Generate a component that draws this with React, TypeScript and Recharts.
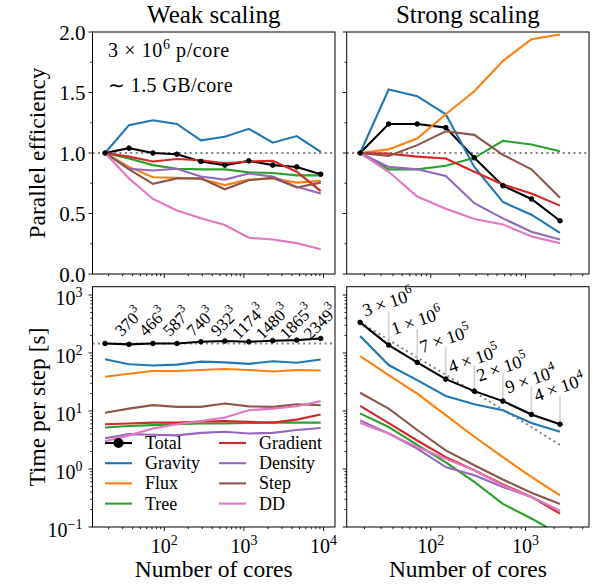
import React from "react";
import { LineChart, Line, XAxis, YAxis, ReferenceLine, ReferenceDot } from "recharts";

const FONT = "'Liberation Serif', 'Times New Roman', serif";
const W = 596;
const H = 585;

// cores
const weakCores = [18, 36, 72, 144, 288, 576, 1152, 2304, 4608, 9216];
const strongCores = [18, 36, 72, 144, 288, 576, 1152, 2304];

// weak scaling, parallel efficiency
const weakEffTotal = [1.0, 1.04, 1.0, 0.99, 0.93, 0.9, 0.935, 0.9, 0.885, 0.825];
const weakEffGravity = [1.0, 1.23, 1.27, 1.24, 1.105, 1.135, 1.2, 1.085, 1.14, 1.01];
const weakEffFlux = [1.0, 0.885, 0.8, 0.795, 0.785, 0.735, 0.78, 0.79, 0.755, 0.77];
const weakEffTree = [1.0, 0.955, 0.9, 0.87, 0.865, 0.865, 0.84, 0.835, 0.815, 0.815];
const weakEffGradient = [1.0, 0.97, 0.93, 0.95, 0.94, 0.915, 0.93, 0.935, 0.845, 0.685];
const weakEffDensity = [1.0, 0.87, 0.855, 0.87, 0.805, 0.78, 0.83, 0.805, 0.72, 0.665];
const weakEffStep = [1.0, 0.865, 0.745, 0.79, 0.79, 0.7, 0.775, 0.795, 0.715, 0.755];
const weakEffDD = [1.0, 0.79, 0.62, 0.525, 0.46, 0.405, 0.3, 0.285, 0.255, 0.205];

// strong scaling, parallel efficiency
const strongEffTotal = [1.0, 1.24, 1.24, 1.21, 0.96, 0.73, 0.62, 0.44];
const strongEffGravity = [1.0, 1.525, 1.47, 1.32, 0.885, 0.595, 0.49, 0.34];
const strongEffFlux = [1.0, 1.03, 1.12, 1.32, 1.51, 1.76, 1.94, 1.98];
const strongEffTree = [1.0, 0.865, 0.865, 0.895, 0.96, 1.1, 1.07, 1.015];
const strongEffGradient = [1.0, 0.995, 0.97, 0.955, 0.845, 0.74, 0.665, 0.565];
const strongEffDensity = [1.0, 0.885, 0.865, 0.81, 0.585, 0.46, 0.35, 0.285];
const strongEffStep = [1.0, 0.975, 1.065, 1.18, 1.15, 0.985, 0.865, 0.63];
const strongEffDD = [1.0, 0.845, 0.64, 0.54, 0.455, 0.41, 0.31, 0.255];

// weak scaling, time per step [s]
const weakTimeTotal = [146, 141, 146, 146, 156, 161, 156, 163, 167, 178];
const weakTimeGravity = [78, 64, 61, 63, 71, 69, 65, 72, 68, 77];
const weakTimeFlux = [39, 44, 49, 49, 51, 53, 51, 48, 51, 50];
const weakTimeTree = [5.2, 5.5, 5.7, 5.9, 6.1, 6.1, 6.2, 6.3, 6.3, 6.3];
const weakTimeGradient = [5.9, 6.1, 6.3, 6.3, 6.6, 6.7, 6.5, 6.3, 7.1, 8.7];
const weakTimeDensity = [3.4, 4.0, 3.9, 3.8, 4.2, 4.4, 4.1, 4.2, 4.7, 5.1];
const weakTimeStep = [9.3, 11.0, 12.6, 11.8, 11.8, 13.5, 12.0, 11.8, 13.1, 12.6];
const weakTimeDD = [3.0, 3.8, 5.0, 5.9, 6.7, 7.7, 10.3, 11.0, 12.1, 14.8];

// strong scaling, time per step [s]
const strongTimeTotal = [337, 137, 68.8, 35.4, 22, 14.8, 8.7, 5.9];
const strongTimeIdeal = [337, 168.5, 84, 42, 21, 10.5, 5.3, 2.6];
const strongTimeGravity = [196, 62, 34, 18.2, 13.1, 10.3, 6.2, 4.4];
const strongTimeFlux = [88, 41.5, 20, 8.5, 3.6, 1.6, 0.73, 0.35];
const strongTimeTree = [9.1, 5.3, 2.6, 1.3, 0.6, 0.25, 0.14, 0.074];
const strongTimeGradient = [12.3, 6.2, 3.1, 1.6, 0.95, 0.54, 0.33, 0.17];
const strongTimeDensity = [6.9, 4.1, 2.25, 1.08, 0.78, 0.49, 0.33, 0.19];
const strongTimeStep = [20.6, 11.0, 4.7, 2.1, 1.16, 0.66, 0.39, 0.25];
const strongTimeDD = [6.2, 4.1, 2.4, 1.5, 0.95, 0.52, 0.33, 0.19];

// annotations
const cubeLabels = ["370", "466", "587", "740", "932", "1174", "1480", "1865", "2349"];
const CUBE_LABEL_AT = 340;
const perCoreMant = [3, 1, 7, 4, 2, 9, 4];
const perCoreExp = [6, 6, 5, 5, 5, 4, 4];
const perCoreLabelAt = [423, 204, 99, 45, 32, 20, 14.5];
const perCoreLineTop = [515, 259, 127, 62, 45, 26, 18];

const SERIES = [
  { key: "total", name: "Total", color: "#000000" },
  { key: "gravity", name: "Gravity", color: "#1f77b4" },
  { key: "flux", name: "Flux", color: "#ff7f0e" },
  { key: "tree", name: "Tree", color: "#2ca02c" },
  { key: "gradient", name: "Gradient", color: "#d62728" },
  { key: "density", name: "Density", color: "#9467bd" },
  { key: "step", name: "Step", color: "#8c564b" },
  { key: "dd", name: "DD", color: "#e377c2" },
];

function rows(x: number[], cols: Record<string, number[]>) {
  return x.map((v, i) => {
    const r: any = { x: v };
    Object.keys(cols).forEach((k) => (r[k] = cols[k][i]));
    return r;
  });
}

const weakEffRows = rows(weakCores, {
  total: weakEffTotal, gravity: weakEffGravity, flux: weakEffFlux, tree: weakEffTree,
  gradient: weakEffGradient, density: weakEffDensity, step: weakEffStep, dd: weakEffDD,
});
const strongEffRows = rows(strongCores, {
  total: strongEffTotal, gravity: strongEffGravity, flux: strongEffFlux, tree: strongEffTree,
  gradient: strongEffGradient, density: strongEffDensity, step: strongEffStep, dd: strongEffDD,
});
const weakTimeRows = rows(weakCores, {
  total: weakTimeTotal, gravity: weakTimeGravity, flux: weakTimeFlux, tree: weakTimeTree,
  gradient: weakTimeGradient, density: weakTimeDensity, step: weakTimeStep, dd: weakTimeDD,
});
const strongTimeRows = rows(strongCores, {
  total: strongTimeTotal, ideal: strongTimeIdeal, gravity: strongTimeGravity, flux: strongTimeFlux,
  tree: strongTimeTree, gradient: strongTimeGradient, density: strongTimeDensity,
  step: strongTimeStep, dd: strongTimeDD,
});

// panel frames in px
const COLS = [{ left: 92.5, right: 335 }, { left: 346.7, right: 589 }];
const ROWS = [{ top: 32, bottom: 274 }, { top: 286.7, bottom: 527 }];

const weakDomain: [number, number] = [12.53, 13930];
const strongDomain: [number, number] = [13.0, 4660];
const timeDomain: [number, number] = [0.1, 1390];

function logTicks(lo: number, hi: number) {
  const out: number[] = [];
  for (let e = -1; e <= 4; e++) {
    for (let m = 1; m <= 9; m++) {
      const v = e < 0 ? m / 10 : m * Math.pow(10, e);
      if (v >= lo && v <= hi) out.push(v);
    }
  }
  return out;
}
const effTicks = [0, 0.25, 0.5, 0.75, 1, 1.25, 1.5, 1.75, 2];

function isDecade(v: number) {
  const l = Math.log10(v);
  return Math.abs(l - Math.round(l)) < 1e-6;
}

function expText(e: number) {
  return e < 0 ? "\u2212" + Math.abs(e) : String(e);
}

const TXT = { fontFamily: FONT };

function XTick(props: any) {
  const { x, y, payload, showLabel } = props;
  const v = payload.value;
  const major = isDecade(v);
  return (
    <g>
      <line x1={x} x2={x} y1={y} y2={y + (major ? 4 : 2.2)} stroke="#000" strokeWidth={0.9} />
      {major && showLabel && (
        <text x={x} y={y + 26} textAnchor="middle" style={TXT} fontSize={20} fill="#000">
          10<tspan dy={-8} fontSize={14}>{expText(Math.round(Math.log10(v)))}</tspan>
        </text>
      )}
    </g>
  );
}

function YLogTick(props: any) {
  const { x, y, payload, showLabel } = props;
  const v = payload.value;
  const major = isDecade(v);
  return (
    <g>
      <line x1={x} x2={x - (major ? 4 : 2.2)} y1={y} y2={y} stroke="#000" strokeWidth={0.9} />
      {major && showLabel && (
        <text x={x - 10} y={y + 10} textAnchor="end" style={TXT} fontSize={20} fill="#000">
          10<tspan dy={-8} fontSize={14}>{expText(Math.round(Math.log10(v)))}</tspan>
        </text>
      )}
    </g>
  );
}

function YLinTick(props: any) {
  const { x, y, payload, showLabel } = props;
  const v = payload.value;
  const major = Math.abs(v * 2 - Math.round(v * 2)) < 1e-6;
  return (
    <g>
      <line x1={x} x2={x - (major ? 4 : 2.2)} y1={y} y2={y} stroke="#000" strokeWidth={0.9} />
      {major && showLabel && (
        <text x={x - 7} y={y + 7.5} textAnchor="end" style={TXT} fontSize={21} fill="#000">
          {v.toFixed(1)}
        </text>
      )}
    </g>
  );
}

type PanelProps = {
  data: any[];
  col: number;
  row: number;
  xDomain: [number, number];
  children?: React.ReactNode;
};

function Panel({ data, col, row, xDomain, children }: PanelProps) {
  const c = COLS[col];
  const r = ROWS[row];
  const isTime = row === 1;
  return (
    <div style={{ position: "absolute", left: 0, top: 0 }}>
      <LineChart
        width={W}
        height={H}
        data={data}
        margin={{ left: c.left - 1, right: W - c.right, top: r.top, bottom: H - r.bottom - 1 }}
      >
        <XAxis
          dataKey="x"
          type="number"
          scale="log"
          domain={xDomain}
          allowDataOverflow
          ticks={logTicks(xDomain[0], xDomain[1])}
          interval={0}
          height={1}
          tickSize={0}
          tickMargin={0}
          axisLine={false}
          tickLine={false}
          tick={(p: any) => <XTick {...p} showLabel={isTime} />}
        />
        {isTime ? (
          <YAxis
            type="number"
            scale="log"
            domain={timeDomain}
            allowDataOverflow
            ticks={logTicks(timeDomain[0], timeDomain[1])}
            interval={0}
            width={1}
            tickSize={0}
            tickMargin={0}
            axisLine={false}
            tickLine={false}
            tick={(p: any) => <YLogTick {...p} showLabel={col === 0} />}
          />
        ) : (
          <YAxis
            type="number"
            domain={[0, 2]}
            allowDataOverflow
            ticks={effTicks}
            interval={0}
            width={1}
            tickSize={0}
            tickMargin={0}
            axisLine={false}
            tickLine={false}
            tick={(p: any) => <YLinTick {...p} showLabel={col === 0} />}
          />
        )}
        {children}
        {SERIES.map((s) => (
          <Line
            key={s.key}
            dataKey={s.key}
            type="linear"
            stroke={s.color}
            strokeWidth={2.1}
            dot={s.key === "total" ? { r: 2.3, fill: "#000", stroke: "#000", strokeWidth: 1 } : false}
            activeDot={false}
            isAnimationActive={false}
          />
        ))}
      </LineChart>
    </div>
  );
}

function CubeLabel({ cx, cy, text }: { cx: number; cy: number; text: string }) {
  return (
    <text
      x={cx}
      y={cy}
      transform={`rotate(-45 ${cx} ${cy})`}
      textAnchor="middle"
      dominantBaseline="central"
      style={TXT}
      fontSize={17}
      fill="#000"
    >
      {text}
      <tspan dy={-7} fontSize={12}>3</tspan>
    </text>
  );
}

function PerCoreLabel({ cx, cy, m, e }: { cx: number; cy: number; m: number; e: number }) {
  const x = cx + 5;
  return (
    <text x={x} y={cy} transform={`rotate(-19 ${x} ${cy})`} style={TXT} fontSize={18} fill="#000">
      {m} × 10<tspan dy={-8} fontSize={13}>{e}</tspan>
    </text>
  );
}

const DOT_STYLE = { stroke: "#808080", strokeWidth: 2, strokeDasharray: "2 3.4" };

export default function App() {
  const legendRows = [443, 463.2, 483.4, 503.6];
  return (
    <div style={{ position: "absolute", left: 0, top: 0, width: W, height: H, background: "#fff", fontFamily: FONT }}>
      <Panel data={weakEffRows} col={0} row={0} xDomain={weakDomain}>
        <ReferenceLine y={1} {...DOT_STYLE} />
      </Panel>
      <Panel data={strongEffRows} col={1} row={0} xDomain={strongDomain}>
        <ReferenceLine y={1} {...DOT_STYLE} />
      </Panel>
      <Panel data={weakTimeRows} col={0} row={1} xDomain={weakDomain}>
        <ReferenceLine y={weakTimeTotal[0]} {...DOT_STYLE} />
        {cubeLabels.map((lab, i) => (
          <ReferenceDot
            key={lab}
            x={weakCores[i + 1]}
            y={CUBE_LABEL_AT}
            r={0}
            ifOverflow="visible"
            shape={(p: any) => <CubeLabel cx={p.cx} cy={p.cy} text={lab} />}
          />
        ))}
      </Panel>
      <Panel data={strongTimeRows} col={1} row={1} xDomain={strongDomain}>
        <Line
          dataKey="ideal"
          stroke="#808080"
          strokeWidth={2}
          strokeDasharray="2 3.4"
          dot={false}
          activeDot={false}
          isAnimationActive={false}
        />
        {perCoreLineTop.map((top, i) => (
          <ReferenceLine
            key={"seg" + i}
            segment={[
              { x: strongCores[i + 1], y: strongTimeTotal[i + 1] },
              { x: strongCores[i + 1], y: top },
            ]}
            stroke="#d3d3d3"
            strokeWidth={1.6}
          />
        ))}
        {perCoreMant.map((m, i) => (
          <ReferenceDot
            key={"lab" + i}
            x={strongCores[i]}
            y={perCoreLabelAt[i]}
            r={0}
            ifOverflow="visible"
            shape={(p: any) => <PerCoreLabel cx={p.cx} cy={p.cy} m={m} e={perCoreExp[i]} />}
          />
        ))}
      </Panel>

      <svg width={W} height={H} style={{ position: "absolute", left: 0, top: 0, pointerEvents: "none" }}>
        {COLS.map((c, ci) =>
          ROWS.map((r, ri) => (
            <rect
              key={ci + "-" + ri}
              x={c.left}
              y={r.top}
              width={c.right - c.left}
              height={r.bottom - r.top}
              fill="none"
              stroke="#000"
              strokeWidth={1}
            />
          ))
        )}
        <g style={TXT} fill="#000">
          <text x={(COLS[0].left + COLS[0].right) / 2} y={23} textAnchor="middle" fontSize={25}>
            Weak scaling
          </text>
          <text x={(COLS[1].left + COLS[1].right) / 2} y={23} textAnchor="middle" fontSize={25}>
            Strong scaling
          </text>
          <text transform="translate(45 153) rotate(-90)" textAnchor="middle" fontSize={23.5}>
            Parallel efficiency
          </text>
          <text transform="translate(45 407) rotate(-90)" textAnchor="middle" fontSize={23.5}>
            Time per step [s]
          </text>
          <text x={(COLS[0].left + COLS[0].right) / 2} y={577} textAnchor="middle" fontSize={23.5}>
            Number of cores
          </text>
          <text x={(COLS[1].left + COLS[1].right) / 2} y={577} textAnchor="middle" fontSize={23.5}>
            Number of cores
          </text>
          <text x={108} y={57} fontSize={20} letterSpacing={0.6}>
            3 × 10<tspan dy={-8} fontSize={14}>6</tspan>
            <tspan dy={8}> p/core</tspan>
          </text>
          <text x={108} y={92} fontSize={20} letterSpacing={0.4}>
            ∼ 1.5 GB/core
          </text>
          {SERIES.map((s, i) => {
            const colIdx = i < 4 ? 0 : 1;
            const y = legendRows[i % 4];
            const x0 = colIdx === 0 ? 105 : 219;
            return (
              <g key={s.key}>
                <line x1={x0} x2={x0 + 27} y1={y} y2={y} stroke={s.color} strokeWidth={2.1} />
                {s.key === "total" && <circle cx={x0 + 13.5} cy={y} r={5} fill="#000" />}
                <text x={x0 + 40} y={y + 6} fontSize={18}>
                  {s.name}
                </text>
              </g>
            );
          })}
        </g>
      </svg>
    </div>
  );
}
